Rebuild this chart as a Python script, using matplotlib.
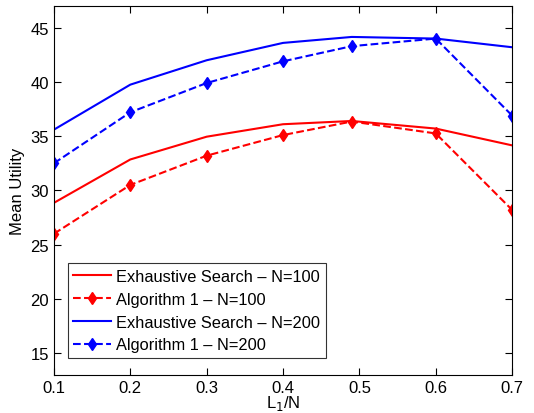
import numpy as np
import matplotlib
matplotlib.use('Agg')
import matplotlib.pyplot as plt

plt.rcParams['font.family'] = ['Liberation Sans', 'DejaVu Sans']

x = [0.1, 0.2, 0.3, 0.4, 0.49, 0.6, 0.7]
es_100 = [28.85, 32.85, 34.95, 36.1, 36.4, 35.7, 34.15]
alg_100 = [26.0, 30.5, 33.2, 35.1, 36.35, 35.25, 28.2]
es_200 = [35.6, 39.75, 42.0, 43.6, 44.15, 44.0, 43.2]
alg_200 = [32.5, 37.2, 39.9, 41.9, 43.3, 44.0, 36.9]

fig = plt.figure(figsize=(5.34, 4.14), dpi=100)
ax = fig.add_axes([0.101, 0.0925, 0.858, 0.8905])

ax.plot(x, es_100, '-', color='red', lw=1.5, label='Exhaustive Search \u2013 N=100')
ax.plot(x, alg_100, '--', color='red', lw=1.5, marker='d', ms=6.5, label='Algorithm 1 \u2013 N=100')
ax.plot(x, es_200, '-', color='blue', lw=1.5, label='Exhaustive Search \u2013 N=200')
ax.plot(x, alg_200, '--', color='blue', lw=1.5, marker='d', ms=6.5, label='Algorithm 1 \u2013 N=200')

ax.set_xlim(0.1, 0.7)
ax.set_ylim(13, 47)
ax.set_xticks(np.arange(0.1, 0.71, 0.1))
ax.set_yticks([15, 20, 25, 30, 35, 40, 45])
ax.tick_params(direction='in', top=True, right=True, labelsize=12, length=5)
ax.set_xlabel('L$_1$/N', fontsize=12, labelpad=-1)
ax.set_ylabel('Mean Utility', fontsize=12)

leg = ax.legend(loc='lower left', bbox_to_anchor=(0.03, 0.045), fontsize=11.8,
                frameon=True, fancybox=False, edgecolor='black', handlelength=2.3,
                numpoints=1, borderpad=0.35, labelspacing=0.48, handletextpad=0.3,
                borderaxespad=0)
leg.get_frame().set_linewidth(0.8)

fig.savefig('out.png', dpi=100)
